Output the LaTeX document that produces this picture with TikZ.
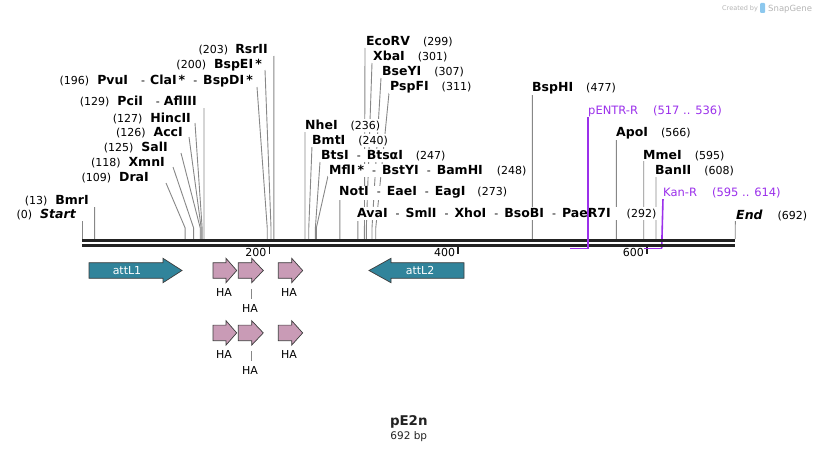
\documentclass[tikz,border=0pt]{standalone}
\usepackage{fontspec}
\setmainfont{DejaVu Sans}
\usetikzlibrary{backgrounds}

\definecolor{mapline}{RGB}{135,135,135}
\definecolor{backbone}{RGB}{34,34,34}
\definecolor{primer}{RGB}{155,48,235}
\definecolor{attfill}{RGB}{49,132,155}
\definecolor{hafill}{RGB}{201,155,182}
\definecolor{edgegray}{RGB}{60,60,60}
\definecolor{wmgray}{RGB}{180,180,180}
\definecolor{logoblue}{RGB}{140,200,238}

\newcommand{\enz}[1]{{\fontsize{12.5}{14}\selectfont\bfseries #1}}
\newcommand{\loc}[1]{{\fontsize{11}{13}\selectfont(#1)}}
\newcommand{\term}[1]{{\fontsize{12.5}{14}\selectfont\bfseries\itshape #1}}
\newcommand{\dsh}{\hspace{8pt}{\fontsize{11}{13}\selectfont-}\hspace{6pt}}

\begin{document}
\begin{tikzpicture}[x=1pt, y=-1pt,
  site/.style={fill=white, inner xsep=1pt, inner ysep=1pt},
  cutline/.style={draw=mapline, line width=0.9pt},
  strand/.style={draw=backbone, line width=3pt},
  scaletick/.style={draw=backbone, line width=1.6pt},
  primerline/.style={draw=primer, line width=1.6pt},
  attl/.style={draw=edgegray, line width=0.7pt, fill=attfill},
  hatag/.style={draw=edgegray, line width=0.7pt, fill=hafill},
  featlab/.style={font=\fontsize{11}{13}\selectfont, inner sep=1pt}]
  \useasboundingbox (0,0) rectangle (818,452);

  \foreach \n/\tx/\ty/\lx/\ly/\bp/\txt in
    { st/77/218.6/82.3/221/0/{\loc{0}\hspace{8pt}\term{Start}},
      bmr/90/204.6/94.6/207/13/{\loc{13}\hspace{8pt}\enz{BmrI}},
      dra/150/181/166/183/109/{\loc{109}\hspace{8pt}\enz{DraI}},
      xmn/166/166.5/173/167/118/{\loc{118}\hspace{8pt}\enz{XmnI}},
      sal/169/151/181/153/125/{\loc{125}\hspace{8pt}\enz{SalI}},
      acc/184/136.5/189/137/126/{\loc{126}\hspace{8pt}\enz{AccI}},
      hinc/192/122/195/123/127/{\loc{127}\hspace{8pt}\enz{HincII}},
      pci/198/105.6/204/108/129/{\loc{129}\hspace{8pt}\enz{PciI}\hspace{13pt}{\fontsize{11}{13}\selectfont-}\hspace{4pt}\enz{AflIII}},
      pvu/254/84.3/257/87/196/{\loc{196}\hspace{8pt}\enz{PvuI}\hspace{13pt}{\fontsize{11}{13}\selectfont-}\hspace{5pt}\enz{ClaI\,*}\dsh\enz{BspDI\,*}},
      bspe/263/68.8/265/70/200/{\loc{200}\hspace{8pt}\enz{BspEI\,*}},
      rsr/269/53.8/273.8/56/203/{\loc{203}\hspace{7pt}\enz{RsrII}}}
  {
    \node[site, anchor=base east] (\n) at (\tx,\ty) {\txt};
    \begin{pgfonlayer}{background}
      \coordinate (\n-top) at (\lx,\ly);
      \coordinate (\n-bend) at ({82.3+0.9436*\bp},228);
      \coordinate (\n-cut) at ({82.3+0.9436*\bp},239);
      \draw[cutline] (\n-top) -- (\n-bend) -- (\n-cut);
    \end{pgfonlayer}
  }

  \foreach \n/\tx/\ty/\lx/\ly/\bp/\txt in
    { nhe/304/129.3/305/132/236/{\enz{NheI}\hspace{13pt}\loc{236}},
      bmt/311/144.3/312/146/240/{\enz{BmtI}\hspace{13pt}\loc{240}},
      bts/320/159.3/320/162/247/{\enz{BtsI}\dsh\enz{BtsαI}\hspace{13pt}\loc{247}},
      mfl/328/174.3/328/176/248/{\enz{MflI\,*}\dsh\enz{BstYI}\dsh\enz{BamHI}\hspace{14pt}\loc{248}},
      not/338/195.8/339.9/198/273/{\enz{NotI}\dsh\enz{EaeI}\dsh\enz{EagI}\hspace{12pt}\loc{273}},
      ava/356/217.5/357.8/221/292/{\enz{AvaI}\dsh\enz{SmlI}\dsh\enz{XhoI}\dsh\enz{BsoBI}\dsh\enz{PaeR7I}\hspace{16pt}\loc{292}},
      eco/365/45.8/365/48/299/{\enz{EcoRV}\hspace{13pt}\loc{299}},
      xba/372/60.8/372/63/301/{\enz{XbaI}\hspace{13pt}\loc{301}},
      bse/381/75.8/381/78/307/{\enz{BseYI}\hspace{13pt}\loc{307}},
      psp/389/90.8/389/93/311/{\enz{PspFI}\hspace{13pt}\loc{311}},
      bsph/531/91.8/532.4/94/477/{\enz{BspHI}\hspace{13pt}\loc{477}},
      apo/615/136.3/616.4/138/566/{\enz{ApoI}\hspace{13pt}\loc{566}},
      mme/642/159/643.7/161/595/{\enz{MmeI}\hspace{13pt}\loc{595}},
      ban/654/174.3/656/177/608/{\enz{BanII}\hspace{13pt}\loc{608}},
      stop/735/219/735.3/221/692/{\term{End}\hspace{15pt}\loc{692}}}
  {
    \node[site, anchor=base west] (\n) at (\tx,\ty) {\txt};
    \begin{pgfonlayer}{background}
      \coordinate (\n-top) at (\lx,\ly);
      \coordinate (\n-bend) at ({82.3+0.9436*\bp},228);
      \coordinate (\n-cut) at ({82.3+0.9436*\bp},239);
      \draw[cutline] (\n-top) -- (\n-bend) -- (\n-cut);
    \end{pgfonlayer}
  }

  \draw[strand] (st-cut |- 0,240.5) -- (stop-cut |- 0,240.5);
  \draw[strand] (st-cut |- 0,245) -- (stop-cut |- 0,245);

  \foreach \t in {200,400,600}{
    \coordinate (t\t) at ({82.3+0.9436*\t-1.5},246.5);
    \draw[scaletick] (t\t) -- ++(0,7);
    \node[anchor=base east, inner sep=0pt, font=\fontsize{11}{13}\selectfont] (t\t-lab)
      at ({82.3+0.9436*\t-4.5},256) {\t};
  }

  \draw[attl] (89,262.7) -- (163,262.7) -- (163,258.3) -- (182,270.5) -- (163,282.7) -- (163,278.3) -- (89,278.3) -- cycle;
  \node[featlab, text=white] (attl1) at (127,270.5) {attL1};
  \draw[attl] (464,262.7) -- (391,262.7) -- (391,258.3) -- (369,270.5) -- (391,282.7) -- (391,278.3) -- (464,278.3) -- cycle;
  \node[featlab, text=white] (attl2) at (420,270.5) {attL2};

  \foreach \yc/\r in {270.5/1, 332.9/2}{
    \foreach \xa/\xh/\xb in {213/226/236.7, 238.3/251.7/263.3, 278.3/291.7/302.7}
      \draw[hatag] (\xa,\yc-7.8) -- (\xh,\yc-7.8) -- (\xh,\yc-12.2) -- (\xb,\yc)
        -- (\xh,\yc+12.2) -- (\xh,\yc+7.8) -- (\xa,\yc+7.8) -- cycle;
    \node[featlab] (ha\r a) at (224,\yc+21.8) {HA};
    \node[featlab] (ha\r b) at (250,\yc+37.8) {HA};
    \node[featlab] (ha\r c) at (289,\yc+21.8) {HA};
    \coordinate (ha\r b-top) at (251.7,\yc+18.5);
    \draw[cutline, line width=0.7pt] (ha\r b-top) -- ([yshift=4pt]ha\r b-top |- ha\r b.north);
  }

  \node[site, anchor=base west, text=primer, font=\fontsize{11.5}{13}\selectfont] (pentr)
    at (587,114.2) {pENTR-R\hspace{15pt}(517 .. 536)};
  \node[site, anchor=base west, text=primer, font=\fontsize{11.5}{13}\selectfont] (kanr)
    at (662,196.2) {Kan-R\hspace{15pt}(595 .. 614)};
  \coordinate (pentr-top) at (588.1,117);
  \coordinate (pentr-3) at (588.1,248.3);
  \coordinate (pentr-5) at (570.1,248.3);
  \draw[primerline] (pentr-top) -- (pentr-3) -- (pentr-5);
  \coordinate (kanr-top) at (663,198);
  \coordinate (kanr-3) at (661.7,248.3);
  \coordinate (kanr-5) at (643.7,248.3);
  \begin{pgfonlayer}{background}
    \draw[primerline] (kanr-top) -- (kanr-3);
  \end{pgfonlayer}
  \draw[primerline] (kanr-3) -- (kanr-5);

  \node[anchor=base, text=backbone, font=\fontsize{13.4}{15}\selectfont\bfseries] (name)
    at (408.8,425.6) {pE2n};
  \node[anchor=base, text=backbone, font=\fontsize{10.5}{12}\selectfont] (size)
    at (408.8,439.5) {692 bp};

  \node[anchor=base west, inner sep=0pt, text=wmgray, font=\fontsize{6.5}{8}\selectfont] (made)
    at (722,11) {Created by};
  \fill[logoblue, rounded corners=1pt] (760,3) rectangle (765,13);
  \node[anchor=base west, inner sep=0pt, text=wmgray, font=\fontsize{8.5}{10}\selectfont] (brand)
    at (768,12) {SnapGene};
\end{tikzpicture}
\end{document}
